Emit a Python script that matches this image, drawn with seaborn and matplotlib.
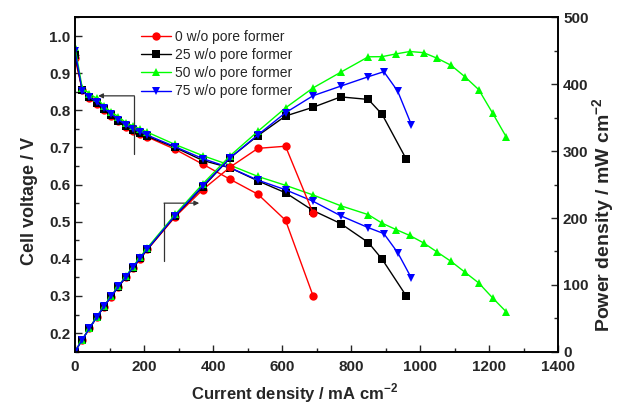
import pandas as pd
import matplotlib
matplotlib.use("Agg")
import matplotlib.pyplot as plt
from matplotlib.lines import Line2D
from matplotlib.ticker import MultipleLocator, FormatStrFormatter
import seaborn as sns

# current density (mA cm-2), cell voltage (V), power density (mW cm-2)
labels = ["0 w/o pore former", "25 w/o pore former", "50 w/o pore former", "75 w/o pore former"]

current_0 = [0, 21, 42, 63, 84, 105, 126, 147, 168, 189, 210, 290, 370, 450, 530, 610, 690]
volt_0 = [0.94, 0.855, 0.832, 0.818, 0.80, 0.785, 0.77, 0.755, 0.745, 0.735, 0.728, 0.695,
          0.655, 0.614, 0.574, 0.504, 0.30]
power_0 = [0, 18.0, 34.9, 51.5, 67.2, 82.4, 97.0, 111.0, 125.2, 138.9, 152.9, 201.6,
           242.4, 276.3, 304.2, 307.4, 207.0]

current_25 = [0, 21, 42, 63, 84, 105, 126, 147, 168, 189, 210, 290, 370, 450, 530, 610, 690,
              770, 850, 890, 960]
volt_25 = [0.95, 0.855, 0.835, 0.82, 0.803, 0.788, 0.772, 0.758, 0.748, 0.738, 0.73, 0.70,
           0.665, 0.645, 0.61, 0.578, 0.53, 0.495, 0.444, 0.399, 0.30]
power_25 = [0, 18.0, 35.1, 51.7, 67.5, 82.7, 97.3, 111.4, 125.7, 139.5, 153.3, 203.0,
            246.1, 290.3, 323.3, 352.6, 365.7, 381.2, 377.4, 355.1, 288.0]

current_50 = [0, 21, 42, 63, 84, 105, 126, 147, 168, 189, 210, 290, 370, 450, 530, 610, 690,
              770, 850, 890, 930, 970, 1010, 1050, 1090, 1130, 1170, 1210, 1250]
volt_50 = [0.97, 0.86, 0.845, 0.832, 0.812, 0.795, 0.783, 0.767, 0.758, 0.75, 0.741, 0.708,
           0.678, 0.652, 0.622, 0.598, 0.572, 0.543, 0.519, 0.496, 0.479, 0.463, 0.443,
           0.418, 0.393, 0.364, 0.335, 0.295, 0.257]
power_50 = [0, 18.1, 35.5, 52.4, 68.2, 83.5, 98.7, 112.7, 127.3, 141.8, 155.6, 205.3,
            250.9, 293.4, 329.7, 364.8, 394.7, 418.1, 441.2, 441.4, 445.5, 449.1, 447.4,
            438.9, 428.4, 411.3, 392.0, 357.0, 321.0]

current_75 = [0, 21, 42, 63, 84, 105, 126, 147, 168, 189, 210, 290, 370, 450, 530, 610, 690,
              770, 850, 895, 935, 975]
volt_75 = [0.96, 0.852, 0.835, 0.822, 0.805, 0.79, 0.775, 0.76, 0.75, 0.742, 0.733, 0.702,
           0.67, 0.645, 0.612, 0.586, 0.555, 0.516, 0.484, 0.468, 0.417, 0.348]
power_75 = [0, 17.9, 35.1, 51.8, 67.6, 83.0, 97.7, 111.7, 126.0, 140.2, 153.9, 203.6,
            247.9, 290.3, 324.4, 357.5, 383.0, 397.3, 411.4, 418.9, 389.9, 339.3]


def build_frame():
    parts = []
    for lab, cur, volt, pwr in zip(labels,
                                   [current_0, current_25, current_50, current_75],
                                   [volt_0, volt_25, volt_50, volt_75],
                                   [power_0, power_25, power_50, power_75]):
        parts.append(pd.DataFrame({"current": cur, "voltage": volt, "power": pwr, "sample": lab}))
    return pd.concat(parts, ignore_index=True)


def main():
    df = build_frame()

    sns.set_theme(style="ticks")
    plt.rcParams["font.family"] = ["Liberation Sans", "DejaVu Sans"]
    plt.rcParams["mathtext.fontset"] = "custom"
    plt.rcParams["mathtext.bf"] = "Liberation Sans:bold"
    plt.rcParams["mathtext.rm"] = "Liberation Sans:bold"

    palette = dict(zip(labels, ["#FF0000", "#000000", "#00FF00", "#0000FF"]))
    markers = dict(zip(labels, ["o", "s", "^", "v"]))

    fig, ax = plt.subplots(figsize=(6.25, 4.04), dpi=100)
    fig.subplots_adjust(left=0.12, right=0.893, bottom=0.1295, top=0.9567)
    ax2 = ax.twinx()

    common = dict(hue="sample", style="sample", hue_order=labels, style_order=labels,
                  palette=palette, markers=markers, dashes=False, sort=False,
                  estimator=None, legend=False, linewidth=1.0, markersize=6,
                  markeredgewidth=0)
    sns.lineplot(data=df, x="current", y="voltage", ax=ax, **common)
    sns.lineplot(data=df, x="current", y="power", ax=ax2, **common)

    ax.set_xlim(0, 1400)
    ax.set_ylim(0.15, 1.05)
    ax2.set_ylim(0, 500)

    ax.xaxis.set_major_locator(MultipleLocator(200))
    ax.xaxis.set_minor_locator(MultipleLocator(100))
    ax.yaxis.set_major_locator(MultipleLocator(0.1))
    ax.yaxis.set_minor_locator(MultipleLocator(0.05))
    ax2.yaxis.set_major_locator(MultipleLocator(100))
    ax2.yaxis.set_minor_locator(MultipleLocator(50))

    for a in (ax, ax2):
        a.tick_params(which="major", direction="in", length=5, width=1, labelsize=11)
        a.tick_params(which="minor", direction="in", length=3, width=1)
        for sp in a.spines.values():
            sp.set_linewidth(1.2)
            sp.set_color("black")
        for t in a.get_xticklabels() + a.get_yticklabels():
            t.set_fontweight("bold")
    ax.tick_params(axis="x", which="both", top=False, pad=6)
    ax.yaxis.set_major_formatter(FormatStrFormatter("%.1f"))

    ax.set_xlabel(r"Current density / mA cm$^{\mathbf{-2}}$", fontsize=12, fontweight="bold")
    ax.xaxis.set_label_coords(0.455, -0.088)
    ax.set_ylabel("Cell voltage / V", fontsize=13, fontweight="bold")
    ax.yaxis.set_label_coords(-0.077, 0.45)
    ax2.set_ylabel(r"Power density / mW cm$^{\mathbf{-2}}$", fontsize=14, fontweight="bold")
    ax2.yaxis.set_label_coords(1.066, 0.41)

    # arrows pointing to the matching axis
    ax.plot([172, 172], [0.682, 0.839], color="#333333", lw=0.9)
    ax.annotate("", xy=(67, 0.839), xytext=(172, 0.839),
                arrowprops=dict(arrowstyle="-|>", color="#333333", lw=0.9,
                                mutation_scale=7, shrinkA=0, shrinkB=0))
    ax.plot([258, 258], [0.395, 0.55], color="#333333", lw=0.9)
    ax.annotate("", xy=(360, 0.55), xytext=(258, 0.55),
                arrowprops=dict(arrowstyle="-|>", color="#333333", lw=0.9,
                                mutation_scale=7, shrinkA=0, shrinkB=0))

    handles = [Line2D([], [], color=palette[l], marker=markers[l], markersize=6,
                      markeredgewidth=0, lw=1.0) for l in labels]
    ax2.legend(handles, labels, loc="upper left", bbox_to_anchor=(0.11, 1.0),
               frameon=False, fontsize=10, handlelength=2.2, handletextpad=0.3,
               labelspacing=0.3, borderaxespad=0.5)

    fig.savefig("out.png", dpi=100)


if __name__ == "__main__":
    main()
